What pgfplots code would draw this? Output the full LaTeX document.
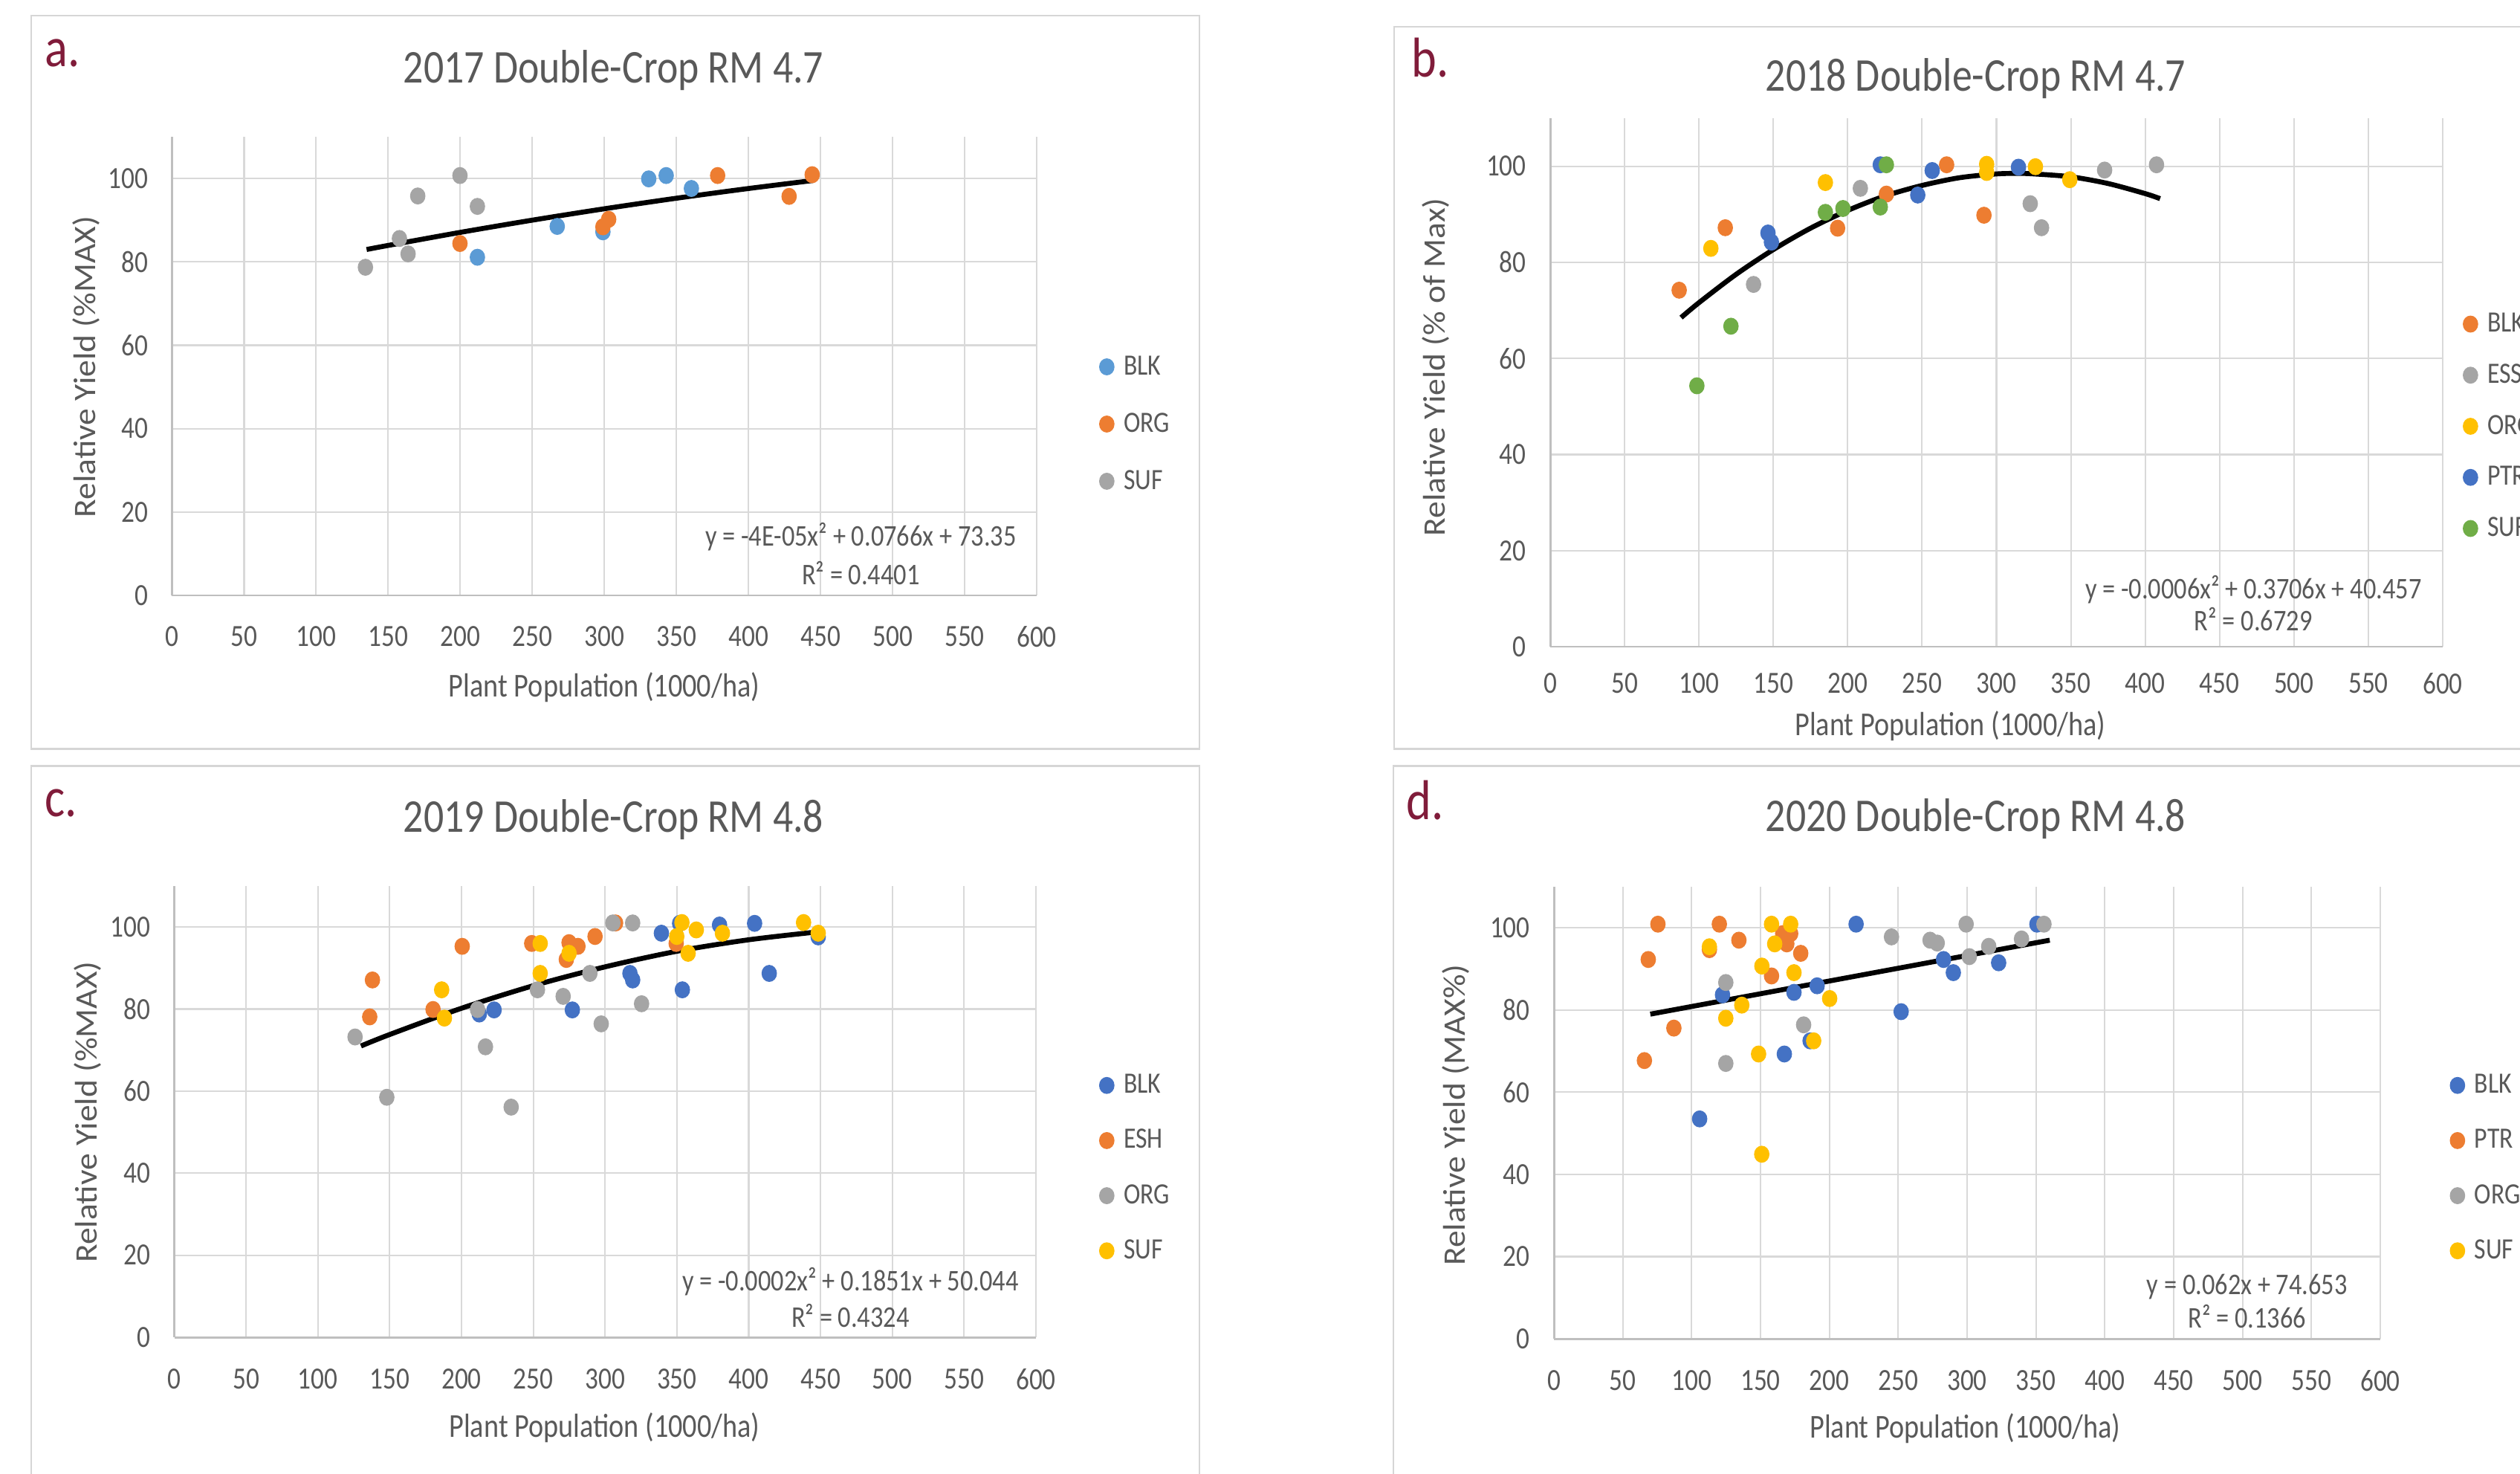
\documentclass[border=0pt]{standalone}
\usepackage{fontspec}
\usepackage{pgfplots}
\pgfplotsset{compat=1.18}
\setmainfont{Carlito}
\newfontfamily\nar{Carlito}[FakeStretch=0.85]
\newfontfamily\wid{Carlito}[FakeStretch=1.08]
\newcommand\tickfont{\nar\fontsize{11.8}{14}\selectfont}
\newcommand\legfont{\nar\fontsize{11.3}{13}\selectfont}
\newcommand\titfont{\nar\fontsize{18}{21}\selectfont}
\newcommand\labfont{\nar\fontsize{12.8}{15}\selectfont}
\newcommand\eqfont{\nar\fontsize{11.5}{14}\selectfont}
\newcommand\ylfont{\wid\fontsize{12}{14}\selectfont}
\newcommand\letfont{\nar\fontsize{21.5}{25}\selectfont}

\definecolor{xlblue}{HTML}{5B9BD5}
\definecolor{xblue}{HTML}{4472C4}
\definecolor{xorange}{HTML}{ED7D31}
\definecolor{xgray}{HTML}{A5A5A5}
\definecolor{xgold}{HTML}{FFC000}
\definecolor{xgreen}{HTML}{70AD47}
\definecolor{txtgray}{HTML}{595959}
\definecolor{gridgray}{HTML}{D9D9D9}
\definecolor{axgray}{HTML}{BFBFBF}
\definecolor{framegray}{HTML}{D6D6D6}
\definecolor{maroon}{RGB}{128,28,58}

\pgfplotsset{
  panel/.style={
    scale only axis,
    xmin=0, xmax=600, ymin=0, ymax=110,
    xtick={0,50,...,600}, ytick={0,20,...,100},
    axis x line*=bottom, axis y line*=left,
    axis line style={draw=axgray, line width=0.85pt, -},
    grid=major, major grid style={draw=gridgray, line width=0.6pt},
    major tick length=0pt, tick style={draw=none},
    ticklabel style={font=\tickfont, text=txtgray},
    yticklabel style={anchor=east, inner sep=0pt, xshift=-9pt},
    /pgf/number format/assume math mode=true,
    legend cell align=left,
    legend image code/.code={\draw[##1] plot coordinates {(0pt,0pt)};
      \path[draw=none, fill=none] (0pt,0pt) -- (6.5pt,0pt);},
    legend style={draw=none, fill=none, inner sep=0pt, anchor=west,
      font=\legfont, text=txtgray,
      nodes={inner sep=0pt, text height=8pt, text depth=2pt}},
    clip=false,
  },
  dots/.style={only marks, mark=*, mark size=3.05pt, color=#1, mark options={xscale=0.9}},
  trend/.style={black, line width=1.9pt, smooth, forget plot, no markers},
}

\begin{document}
\begin{tikzpicture}
\useasboundingbox (0,0) rectangle (33.91cm,19.82cm);
\fill[white] (0,0) rectangle (33.91cm,19.82cm);
\clip (0,0) rectangle (33.91cm,19.82cm);

% ---------- a: 2017 ----------
\begin{axis}[panel, at={(2.315cm,11.81cm)}, anchor=south west,
  width=11.635cm, height=6.17cm,
  xticklabel style={anchor=north, inner sep=0pt, yshift=-11.7pt},
  legend style={at={(1.0722,0.3736)}, row sep=11.9pt}]
  \addplot[dots=xlblue] coordinates {(330.8,99.9)(342.9,100.7)(360.4,97.6)(267.3,88.5)(299,87.2)(211.9,81.1)};
  \addlegendentry{BLK}
  \addplot[dots=xorange] coordinates {(378.6,100.7)(444.2,100.9)(428.2,95.7)(303,90.2)(299,88.4)(199.8,84.4)};
  \addlegendentry{ORG}
  \addplot[dots=xgray] coordinates {(199.8,100.7)(170.5,95.8)(211.9,93.3)(157.8,85.6)(163.8,81.9)(134.2,78.7)};
  \addlegendentry{SUF}
  \addplot[trend] coordinates {(135,82.96)(150,83.94)(200,87.07)(250,90.0)(300,92.73)(350,95.26)(400,97.59)(445,99.52)};
\end{axis}

% ---------- b: 2018 ----------
\begin{axis}[panel, at={(20.86cm,11.12cm)}, anchor=south west,
  width=12.01cm, height=7.11cm,
  xticklabel style={anchor=north, inner sep=0pt, yshift=-10pt},
  legend style={at={(1.0225,0.417)}, row sep=9.56pt}]
  \addplot[dots=xorange] coordinates {(86.7,74.2)(117.7,87.2)(193.2,87.1)(226,94.2)(266.5,100.3)(291.6,89.8)};
  \addlegendentry{BLK}
  \addplot[dots=xgray] coordinates {(136.7,75.4)(208.5,95.4)(322.7,92.2)(330.3,87.2)(372.7,99.2)(407.6,100.3)};
  \addlegendentry{ESS}
  \addplot[dots=xgold] coordinates {(108,82.9)(185,96.6)(293.4,100.4)(293.4,98.7)(326.2,99.9)(349.3,97.2)};
  \addlegendentry{ORG}
  \addplot[dots=xblue] coordinates {(146.4,86.1)(148.7,84.2)(221.9,100.3)(247.1,94.0)(256.8,99.1)(314.8,99.8)};
  \addlegendentry{PTR}
  \addplot[dots=xgreen] coordinates {(98.6,54.3)(121.5,66.7)(185,90.4)(196.8,91.2)(221.9,91.5)(226,100.3)};
  \addlegendentry{SUF}
  \addplot[trend] coordinates {(88,68.5)(100,71.6)(125,77.5)(150,82.65)(175,87.1)(200,90.8)(225,93.8)(250,96.0)(275,97.6)(300,98.4)(315,98.5)(325,98.4)(350,97.8)(375,96.4)(400,94.3)(410,93.25)};
\end{axis}

% ---------- c: 2019 ----------
\begin{axis}[panel, at={(2.345cm,1.83cm)}, anchor=south west,
  width=11.595cm, height=6.07cm,
  xticklabel style={anchor=north, inner sep=0pt, yshift=-12pt},
  legend style={at={(1.0733,0.3748)}, row sep=11.1pt}]
  \addplot[dots=xblue] coordinates {(212.4,78.8)(222.7,79.8)(277.2,79.8)(317.3,88.7)(319.2,87.1)(339.2,98.5)(351.9,100.9)(353.8,84.7)(379.7,100.5)(404.1,100.9)(414.3,88.7)(448.4,97.6)};
  \addlegendentry{BLK}
  \addplot[dots=xorange] coordinates {(138.0,87.1)(136.1,78.1)(180.2,79.9)(200.5,95.3)(248.9,96.0)(274.9,96.2)(281.1,95.3)(273.0,92.1)(293.0,97.7)(307.3,101.0)(349.5,96.0)};
  \addlegendentry{ESH}
  \addplot[dots=xgray] coordinates {(125.9,73.2)(148.0,58.5)(211.2,79.9)(216.7,70.8)(234.6,56.1)(252.9,84.7)(270.8,83.1)(289.4,88.7)(297.3,76.4)(305.4,101.0)(319.2,101.0)(325.4,81.3)};
  \addlegendentry{ORG}
  \addplot[dots=xgold] coordinates {(186.2,84.7)(188.1,77.8)(254.8,96.0)(254.8,88.7)(274.9,93.6)(353.5,101.1)(349.9,97.7)(357.8,93.6)(363.5,99.3)(381.7,98.5)(438.2,101.1)(448.4,98.5)};
  \addlegendentry{SUF}
  \addplot[trend] coordinates {(130,71.0)(150,73.8)(200,80.2)(250,85.7)(300,90.3)(350,94.1)(400,96.9)(450,98.9)};
\end{axis}

% ---------- d: 2020 ----------
\begin{axis}[panel, at={(20.91cm,1.81cm)}, anchor=south west,
  width=11.12cm, height=6.08cm,
  xticklabel style={anchor=north, inner sep=0pt, yshift=-12pt},
  legend style={at={(1.0841,0.3775)}, row sep=11.1pt}]
  \addplot[dots=xblue] coordinates {(122.4,83.7)(174.3,84.3)(191.1,85.9)(219.4,100.9)(252.1,79.6)(282.9,92.3)(290.0,89.1)(322.9,91.5)(350.7,100.9)(186.0,72.5)(167.3,69.3)(105.8,53.5)};
  \addlegendentry{BLK}
  \addplot[dots=xorange] coordinates {(75.5,100.9)(120.1,100.9)(134.3,97.0)(68.5,92.3)(112.9,94.7)(87.1,75.6)(65.7,67.7)(166.1,98.6)(171.9,98.6)(169.1,96.1)(179.2,93.8)(158.0,88.3)};
  \addlegendentry{PTR}
  \addplot[dots=xgray] coordinates {(124.8,86.7)(181.3,76.4)(124.8,67.0)(245.1,97.8)(273.1,97.0)(278.3,96.3)(299.3,100.9)(301.6,93.0)(315.7,95.5)(339.5,97.3)(355.8,100.9)};
  \addlegendentry{ORG}
  \addplot[dots=xgold] coordinates {(158.0,100.9)(171.9,100.9)(112.9,95.4)(160.3,96.1)(151.0,90.7)(174.3,89.1)(136.4,81.2)(124.8,78.0)(200.2,82.8)(188.6,72.5)(148.6,69.3)(150.9,44.9)};
  \addlegendentry{SUF}
  \addplot[trend] coordinates {(70,79.0)(360,97.0)};
\end{axis}

% ---------- frames and texts, in image pixel coordinates ----------
\begin{scope}[x=0.01cm, y=-0.01cm, shift={(0cm,19.82cm)}]
  \draw[framegray, line width=0.7pt] (42,21) rectangle (1615,1008);
  \draw[framegray, line width=0.7pt] (1877,36) rectangle (3400,1008);
  \draw[framegray, line width=0.7pt] (42,1031) rectangle (1615,1990);
  \draw[framegray, line width=0.7pt] (1876,1031) rectangle (3400,1990);

  \begin{scope}[every node/.style={inner sep=0pt}]
  % panel letters
  \node[anchor=base west, font=\letfont, text=maroon] at (60,90) {a.};
  \node[anchor=base west, font=\letfont, text=maroon] at (1900,104) {b.};
  \node[anchor=base west, font=\letfont, text=maroon] at (60,1099) {c.};
  \node[anchor=base west, font=\letfont, text=maroon] at (1893,1103) {d.};
  % titles
  \node[anchor=base, font=\titfont, text=txtgray] at (826,112) {2017 Double-Crop RM 4.7};
  \node[anchor=base, font=\titfont, text=txtgray] at (2660,123) {2018 Double-Crop RM 4.7};
  \node[anchor=base, font=\titfont, text=txtgray] at (826,1120) {2019 Double-Crop RM 4.8};
  \node[anchor=base, font=\titfont, text=txtgray] at (2660,1119) {2020 Double-Crop RM 4.8};
  % x labels
  \node[anchor=base, font=\labfont, text=txtgray] at (813.5,938) {Plant Population (1000/ha)};
  \node[anchor=base, font=\labfont, text=txtgray] at (2626,990) {Plant Population (1000/ha)};
  \node[anchor=base, font=\labfont, text=txtgray] at (814,1935) {Plant Population (1000/ha)};
  \node[anchor=base, font=\labfont, text=txtgray] at (2646,1936) {Plant Population (1000/ha)};
  % y labels
  \node[rotate=90, font=\ylfont, text=txtgray] at (116,494) {Relative Yield (\%MAX)};
  \node[rotate=90, font=\ylfont, text=txtgray] at (1933,494) {Relative Yield (\% of Max)};
  \node[rotate=90, font=\ylfont, text=txtgray] at (118,1497) {Relative Yield (\%MAX)};
  \node[rotate=90, font=\ylfont, text=txtgray] at (1960,1501) {Relative Yield (MAX\%)};
  % trend equations
  \node[anchor=base, font=\eqfont, text=txtgray] at (1159,735) {y = -4E-05x² + 0.0766x + 73.35};
  \node[anchor=base, font=\eqfont, text=txtgray] at (1159,787) {R² = 0.4401};
  \node[anchor=base, font=\eqfont, text=txtgray] at (3034,806) {y = -0.0006x² + 0.3706x + 40.457};
  \node[anchor=base, font=\eqfont, text=txtgray] at (3034,849) {R² = 0.6729};
  \node[anchor=base, font=\eqfont, text=txtgray] at (1145,1738) {y = -0.0002x² + 0.1851x + 50.044};
  \node[anchor=base, font=\eqfont, text=txtgray] at (1145,1787) {R² = 0.4324};
  \node[anchor=base, font=\eqfont, text=txtgray] at (3025.5,1743) {y = 0.062x + 74.653};
  \node[anchor=base, font=\eqfont, text=txtgray] at (3025.5,1788) {R² = 0.1366};
  \end{scope}
\end{scope}
\end{tikzpicture}
\end{document}
